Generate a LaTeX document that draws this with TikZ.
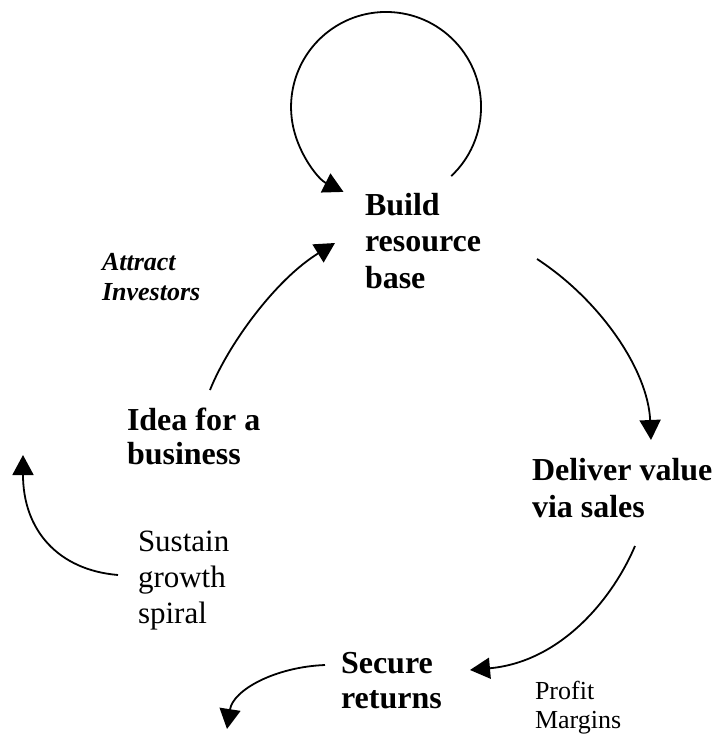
\documentclass[tikz,border=0pt]{standalone}
\usepackage{fontspec}
\setmainfont{Liberation Serif}
\usetikzlibrary{arrows.meta}
\tikzset{
  lbl/.style={anchor=base west, inner sep=0pt, outer sep=0pt},
  conn/.style={line width=1.8pt, -{Triangle[length=20pt,width=21pt]}}
}
\begin{document}
\begin{tikzpicture}[x=1pt,y=-1pt]
\useasboundingbox (0,0) rectangle (714,735);
% text nodes
\node[lbl, font={\fontsize{32}{36.5}\selectfont\bfseries}] (build) at (365,215)
  {\begin{tabular}[t]{@{}l@{}}Build\\resource\\base\end{tabular}};
\node[lbl, font={\fontsize{32}{34}\selectfont\bfseries}] (idea) at (127,430)
  {\begin{tabular}[t]{@{}l@{}}Idea for a\\business\end{tabular}};
\node[lbl, font={\fontsize{32}{37}\selectfont\bfseries}] (deliver) at (532,480)
  {\begin{tabular}[t]{@{}l@{}}Deliver value\\via sales\end{tabular}};
\node[lbl, font={\fontsize{32}{35}\selectfont\bfseries}] (secure) at (341,673)
  {\begin{tabular}[t]{@{}l@{}}Secure\\returns\end{tabular}};
\node[lbl, font={\fontsize{26}{29}\selectfont}] (profit) at (535,699)
  {\begin{tabular}[t]{@{}l@{}}Profit\\Margins\end{tabular}};
\node[lbl, font={\fontsize{31}{36}\selectfont}] (sustain) at (138,551)
  {\begin{tabular}[t]{@{}l@{}}Sustain\\growth\\spiral\end{tabular}};
\node[lbl, font={\fontsize{26}{30}\selectfont\bfseries\itshape}] (attract) at (102,270)
  {\begin{tabular}[t]{@{}l@{}}Attract\\Investors\end{tabular}};
% connector end points
\coordinate (loopS) at (451.2,176.1);
\coordinate (ideaS) at (210,390);
\coordinate (ideaE) at (335,243);
\coordinate (buildS) at (537,259);
\coordinate (buildE) at (651,440);
\coordinate (delS) at (635,546);
\coordinate (delE) at (470,670);
\coordinate (secS) at (325,665);
\coordinate (secE) at (227,729);
\coordinate (susS) at (118,575);
\coordinate (susE) at (23,455);
% connectors
\draw[conn] (loopS) arc[start angle=-46.7, end angle=243.4, radius=95pt];
\draw[conn] (ideaS) .. controls (228,345) and (275,280) .. (ideaE);
\draw[conn] (buildS) .. controls (600,300) and (648,370) .. (buildE);
\draw[conn] (delS) .. controls (612,600) and (560,662) .. (delE);
\draw[conn] (secS) .. controls (275,667) and (233,690) .. (secE);
\draw[conn] (susS) .. controls (58,570) and (23,530) .. (susE);
\end{tikzpicture}
\end{document}
